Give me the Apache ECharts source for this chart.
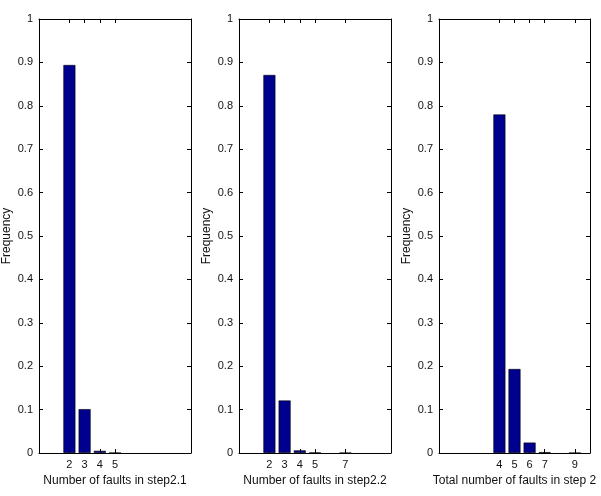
<!DOCTYPE html>
<html>
<head>
<meta charset="utf-8">
<script src="https://cdn.jsdelivr.net/npm/echarts@6/dist/echarts.min.js"></script>
<style>
  html, body { margin: 0; padding: 0; background: #fff; }
  #chart { width: 601px; height: 496px; }
</style>
</head>
<body>
<div id="chart"></div>
<script>
// fault counts (x) and their frequencies for each panel
const faults1 = [2, 3, 4, 5];
const freq1 = [0.894, 0.101, 0.005, 0.0005];
const faults2 = [2, 3, 4, 5, 7];
const freq2 = [0.871, 0.121, 0.006, 0.001, 0.0003];
const faults3 = [4, 5, 6, 7, 9];
const freq3 = [0.780, 0.1935, 0.024, 0.002, 0.0003];

const xTicks1 = [2, 3, 4, 5];
const xTicks2 = [2, 3, 4, 5, 7];
const xTicks3 = [4, 5, 6, 7, 9];
const xNames = ['Number of faults in step2.1', 'Number of faults in step2.2', 'Total number of faults in step 2'];

const panels = [
  { x: faults1, y: freq1, ticks: xTicks1, left: 39, width: 152 },
  { x: faults2, y: freq2, ticks: xTicks2, left: 239, width: 152 },
  { x: faults3, y: freq3, ticks: xTicks3, left: 439, width: 151 }
];

const font = 'Liberation Sans, Arial, sans-serif';
const lineStyle = { color: '#000', width: 1 };

const chart = echarts.init(document.getElementById('chart'));

const grid = [], xAxis = [], yAxis = [], series = [];
panels.forEach((p, i) => {
  grid.push({ left: p.left, top: 19, width: p.width, height: 434 });
  // bottom x axis
  xAxis.push({
    type: 'value', gridIndex: i, min: 0, max: 10, position: 'bottom',
    name: xNames[i], nameLocation: 'middle', nameGap: 20,
    nameTextStyle: { color: '#111', fontSize: 12, fontFamily: font },
    axisLine: { onZero: false, lineStyle },
    axisTick: { inside: true, length: 4, customValues: p.ticks, lineStyle },
    axisLabel: { customValues: p.ticks, color: '#111', fontSize: 11, fontFamily: font, margin: 6 },
    splitLine: { show: false }
  });
  // top x axis (box + ticks)
  xAxis.push({
    type: 'value', gridIndex: i, min: 0, max: 10, position: 'top',
    axisLine: { onZero: false, lineStyle },
    axisTick: { inside: true, length: 4, customValues: p.ticks, lineStyle },
    axisLabel: { show: false },
    splitLine: { show: false }
  });
  // left y axis
  yAxis.push({
    type: 'value', gridIndex: i, min: 0, max: 1, interval: 0.1, position: 'left',
    name: 'Frequency', nameLocation: 'middle', nameGap: 26,
    nameTextStyle: { color: '#111', fontSize: 12, fontFamily: font },
    axisLine: { show: true, onZero: false, lineStyle },
    axisTick: { show: true, inside: true, length: 4, lineStyle },
    axisLabel: { color: '#111', fontSize: 11, fontFamily: font, margin: 6 },
    splitLine: { show: false }
  });
  // right y axis (box + ticks)
  yAxis.push({
    type: 'value', gridIndex: i, min: 0, max: 1, interval: 0.1, position: 'right',
    axisLine: { show: true, onZero: false, lineStyle },
    axisTick: { show: true, inside: true, length: 4, lineStyle },
    axisLabel: { show: false },
    splitLine: { show: false }
  });
  series.push({
    type: 'bar',
    xAxisIndex: i * 2,
    yAxisIndex: i * 2,
    barWidth: 12,
    data: p.x.map((v, k) => [v, p.y[k]]),
    itemStyle: { color: '#00008f', borderColor: '#000', borderWidth: 0.6 },
    silent: true
  });
});

chart.setOption({
  animation: false,
  backgroundColor: '#fff',
  grid, xAxis, yAxis, series
});
</script>
</body>
</html>
